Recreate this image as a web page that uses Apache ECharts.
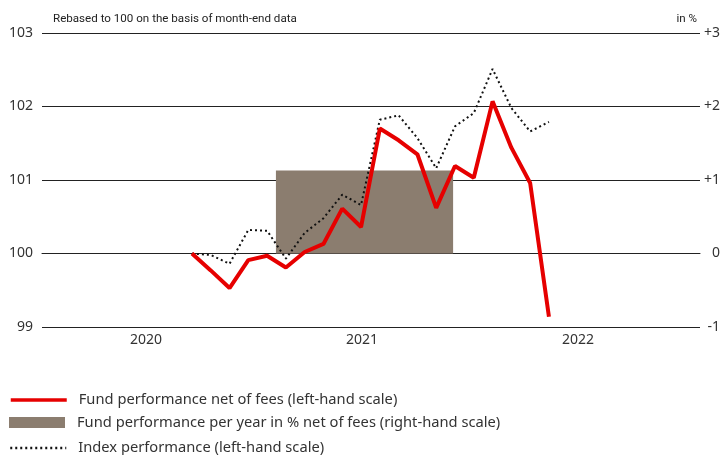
<!DOCTYPE html>
<html>
<head>
<meta charset="utf-8">
<script src="https://cdn.jsdelivr.net/npm/echarts@6/dist/echarts.min.js"></script>
<style>
  html, body { margin: 0; padding: 0; background: #fff; }
  #chart { width: 725px; height: 455px; }
</style>
</head>
<body>
<div id="chart"></div>
<script>
// month-end points, rebased to 100
const months = ['2020-09', '2020-10', '2020-11', '2020-12', '2021-01', '2021-02', '2021-03', '2021-04',
  '2021-05', '2021-06', '2021-07', '2021-08', '2021-09', '2021-10', '2021-11', '2021-12',
  '2022-01', '2022-02', '2022-03', '2022-04']
const fundPerf = [100.00, 99.77, 99.53, 99.91, 99.97, 99.81, 100.02, 100.13, 100.61, 100.36,
  101.70, 101.54, 101.35, 100.62, 101.19, 101.03, 102.07, 101.44, 100.96, 99.14]
const indexPerf = [100.00, 99.98, 99.86, 100.32, 100.31, 99.93, 100.28, 100.48, 100.80, 100.66,
  101.82, 101.88, 101.57, 101.16, 101.73, 101.91, 102.51, 101.98, 101.66, 101.79]
// yearly performance block: from month, to month, value in %
const perYear = [[4.47, 13.9, 1.13]]
const yearLabels = [2020, 2021, 2022]

const leftTicks = [99, 103]
const rightTicks = [-1, 3]

const names = [
  'Fund performance net of fees (left-hand scale)',
  'Fund performance per year in % net of fees (right-hand scale)',
  'Index performance (left-hand scale)'
]

const RED = '#e60000'
const BOX = '#8b7d6f'
const FONT = '"Noto Sans", sans-serif'

const chart = echarts.init(document.getElementById('chart'))

// one legend per row so the last row may run off the bottom like the original
function legendRow(name, top, extra) {
  return {
    orient: 'vertical',
    left: 9,
    top: top,
    padding: 0,
    itemWidth: 56,
    itemHeight: 11,
    textStyle: { fontSize: 14.7, color: '#333', lineHeight: 16, padding: [0, 0, 0, 7] },
    data: [Object.assign({ name: name }, extra)]
  }
}

const option = {
  animation: false,
  textStyle: { fontFamily: FONT },
  title: [
    {
      text: 'Rebased to 100 on the basis of month-end data',
      left: 53,
      top: 13,
      padding: 0,
      textStyle: { fontFamily: 'Roboto, sans-serif', fontSize: 11.6, fontWeight: 'normal', color: '#222' }
    },
    {
      text: 'in %',
      right: 28,
      top: 13,
      padding: 0,
      textStyle: { fontFamily: 'Roboto, sans-serif', fontSize: 11.6, fontWeight: 'normal', color: '#222' }
    }
  ],
  grid: { left: 42, right: 25, top: 33, bottom: 128 },
  legend: [
    legendRow(names[0], 392, { itemStyle: { opacity: 0 }, lineStyle: { width: 3.5 } }),
    legendRow(names[1], 414.5, { icon: 'rect' }),
    legendRow(names[2], 440, { itemStyle: { opacity: 0 }, lineStyle: { width: 2.5 } })
  ],
  xAxis: [
    {
      type: 'value',
      min: -7.98,
      max: 27.04,
      axisLine: { show: true, lineStyle: { color: '#222', width: 1 } },
      axisTick: { show: false },
      axisLabel: { show: false },
      splitLine: { show: false }
    },
    {
      type: 'value',
      min: 2019.519,
      max: 2022.565,
      position: 'bottom',
      axisLine: { show: false },
      axisTick: { show: false },
      splitLine: { show: false },
      axisLabel: {
        customValues: yearLabels,
        formatter: v => String(v),
        fontSize: 14,
        color: '#333',
        margin: 6
      }
    }
  ],
  yAxis: [
    {
      type: 'value',
      min: leftTicks[0],
      max: leftTicks[1],
      interval: 1,
      axisLine: { show: false },
      axisTick: { show: false },
      axisLabel: { fontSize: 14, color: '#333', margin: 9 },
      splitLine: { lineStyle: { color: '#222', width: 1 } }
    },
    {
      type: 'value',
      min: rightTicks[0],
      max: rightTicks[1],
      interval: 1,
      position: 'right',
      axisLine: { show: false },
      axisTick: { show: false },
      splitLine: { show: false },
      axisLabel: {
        fontSize: 14,
        color: '#333',
        align: 'right',
        margin: 20,
        formatter: v => (v > 0 ? '+' + v : String(v))
      }
    }
  ],
  series: [
    {
      name: names[1],
      type: 'custom',
      xAxisIndex: 0,
      yAxisIndex: 1,
      z: 1,
      itemStyle: { color: BOX },
      encode: { x: [0, 1], y: 2 },
      renderItem: function (params, api) {
        const p0 = api.coord([api.value(0), api.value(2)])
        const p1 = api.coord([api.value(1), 0])
        return {
          type: 'rect',
          shape: { x: p0[0], y: p0[1], width: p1[0] - p0[0], height: p1[1] - p0[1] },
          style: { fill: BOX }
        }
      },
      data: perYear
    },
    {
      name: names[0],
      type: 'line',
      xAxisIndex: 0,
      yAxisIndex: 0,
      z: 4,
      symbol: 'none',
      lineStyle: { color: RED, width: 4 },
      itemStyle: { color: RED },
      data: fundPerf.map((v, i) => [i, v])
    },
    {
      name: names[2],
      type: 'line',
      xAxisIndex: 0,
      yAxisIndex: 0,
      z: 3,
      symbol: 'none',
      lineStyle: { color: '#111', width: 2, type: [2, 3] },
      itemStyle: { color: '#111' },
      data: indexPerf.map((v, i) => [i, v])
    }
  ]
}

chart.setOption(option)
</script>
</body>
</html>
